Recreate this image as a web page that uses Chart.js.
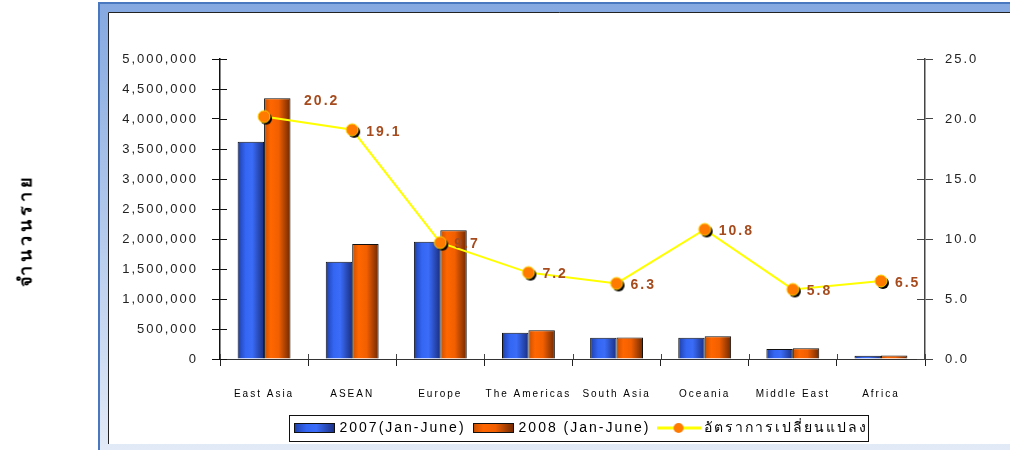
<!DOCTYPE html>
<html>
<head>
<meta charset="utf-8">
<script src="https://cdn.jsdelivr.net/npm/chart.js@4"></script>
<style>
  body { margin: 0; background: #fff; }
  #wrap { position: relative; width: 1010px; height: 450px; }
  #ytitle {
    position: absolute; left: 25px; top: 230px;
    transform: translate(-50%, -50%) rotate(-90deg);
    white-space: nowrap; font: bold 18px "Liberation Sans", Arial, sans-serif;
    letter-spacing: 4px; color: #000;
  }
</style>
</head>
<body>
<div id="wrap">
  <canvas id="stage" width="1010" height="450"></canvas>
  <div id="ytitle">จำนวนราย</div>
</div>
<script>
// data
const regions = ['East Asia', 'ASEAN', 'Europe', 'The Americas', 'South Asia', 'Oceania', 'Middle East', 'Africa'];
const arrivals2007 = [3620000, 1620000, 1955000, 438000, 355000, 355000, 165000, 55000];
const arrivals2008 = [4345000, 1915000, 2145000, 478000, 360000, 378000, 180000, 60000];
const growthRate = [20.2, 19.1, 9.7, 7.2, 6.3, 10.8, 5.8, 6.5];
const seriesNames = ['2007(Jan-June)', '2008 (Jan-June)', 'อัตราการเปลี่ยนแปลง'];

const FONT = '"Liberation Sans", Arial, sans-serif';
Chart.defaults.font.family = FONT;
Chart.defaults.color = '#111';

function makeCanvas(w, h) {
  const c = document.createElement('canvas');
  c.width = w; c.height = h;
  return c;
}

// point marker: orange dot with yellow rim and a black drop shadow
const dot = makeCanvas(20, 20);
(function () {
  const g = dot.getContext('2d');
  g.fillStyle = '#000';
  g.beginPath(); g.arc(12, 12, 6, 0, Math.PI * 2); g.fill();
  g.fillStyle = '#ff7a00'; g.strokeStyle = '#ffd200'; g.lineWidth = 1;
  g.beginPath(); g.arc(10, 10, 6, 0, Math.PI * 2); g.fill(); g.stroke();
})();

function barGradient(ctx, x0, x1, isBlue) {
  const g = ctx.createLinearGradient(x0, 0, x1, 0);
  if (isBlue) {
    g.addColorStop(0, '#1d3ea6');
    g.addColorStop(0.3, '#3466f4');
    g.addColorStop(0.55, '#3a6cf8');
    g.addColorStop(1, '#1a2e80');
  } else {
    g.addColorStop(0, '#c94f00');
    g.addColorStop(0.25, '#ff6600');
    g.addColorStop(0.55, '#f25f00');
    g.addColorStop(1, '#6e2800');
  }
  return g;
}

function rectIcon(isBlue) {
  const c = makeCanvas(41, 10);
  const g = c.getContext('2d');
  g.fillStyle = barGradient(g, 0, 41, isBlue);
  g.fillRect(0, 0, 41, 10);
  g.strokeStyle = '#111'; g.lineWidth = 1;
  g.strokeRect(0.5, 0.5, 40, 9);
  return c;
}

const lineIcon = makeCanvas(44, 12);
(function () {
  const g = lineIcon.getContext('2d');
  g.strokeStyle = '#ffff00'; g.lineWidth = 3;
  g.beginPath(); g.moveTo(0, 6); g.lineTo(44, 6); g.stroke();
  g.fillStyle = '#ff7a00';
  g.beginPath(); g.arc(22, 6, 5, 0, Math.PI * 2); g.fill();
})();

const legendIcons = [rectIcon(true), rectIcon(false), lineIcon];

const framePlugin = {
  id: 'frame',
  beforeUpdate(chart) { chart.ctx.letterSpacing = '2px'; },
  afterLayout(chart) {
    chart.legend.left += 77;
    chart.legend.right += 77;
  },
  beforeDraw(chart) {
    const ctx = chart.ctx, w = chart.width, h = chart.height;
    ctx.save();
    ctx.fillStyle = '#fff';
    ctx.fillRect(0, 0, w, h);
    const g = ctx.createLinearGradient(0, 2, 0, h);
    g.addColorStop(0, '#84a8e0');
    g.addColorStop(1, '#e2eaf7');
    ctx.fillStyle = g;
    ctx.fillRect(98, 2, w - 98, h - 2);
    ctx.fillStyle = '#4a78c0';
    ctx.fillRect(98, 2, 2, h - 2);
    ctx.fillRect(98, 2, w - 98, 2);
    ctx.fillStyle = '#fff';
    ctx.fillRect(108, 12, w - 108, 432);
    ctx.strokeStyle = '#222'; ctx.lineWidth = 1;
    ctx.beginPath();
    ctx.moveTo(108.5, 444); ctx.lineTo(108.5, 12.5); ctx.lineTo(w, 12.5);
    ctx.stroke();
    ctx.restore();
    ctx.letterSpacing = '2px';
  },
  beforeDatasetsDraw(chart) {
    const ctx = chart.ctx;
    // tick marks cross the axes: draw the inner halves
    const {left, right, bottom} = chart.chartArea;
    ctx.save();
    ctx.lineWidth = 1;
    ctx.strokeStyle = '#111';
    ctx.beginPath();
    chart.scales.y.ticks.forEach((t, i) => {
      const yy = Math.round(chart.scales.y.getPixelForTick(i)) + 0.5;
      ctx.moveTo(left, yy); ctx.lineTo(left + 7, yy);
    });
    ctx.stroke();
    ctx.strokeStyle = '#444';
    ctx.beginPath();
    chart.scales.y1.ticks.forEach((t, i) => {
      const yy = Math.round(chart.scales.y1.getPixelForTick(i)) + 0.5;
      ctx.moveTo(right - 8, yy); ctx.lineTo(right, yy);
    });
    const xs = chart.scales.x;
    for (let i = 0; i <= regions.length; i++) {
      const xx = Math.round(xs.left + (xs.right - xs.left) * i / regions.length) + 0.5;
      ctx.moveTo(xx, bottom - 5); ctx.lineTo(xx, bottom);
    }
    ctx.stroke();
    ctx.restore();

    [0, 1].forEach(di => {
      chart.getDatasetMeta(di).data.forEach(bar => {
        const half = bar.width / 2;
        bar.options = Object.assign({}, bar.options, {
          backgroundColor: barGradient(ctx, bar.x - half, bar.x + half, di === 0)
        });
      });
    });
  },
  afterDatasetsDraw(chart) {
    const ctx = chart.ctx;
    ctx.save();
    ctx.letterSpacing = '2px';
    ctx.font = 'bold 14px ' + FONT;
    ctx.fillStyle = '#a64b1e';
    ctx.textAlign = 'left';
    ctx.textBaseline = 'middle';
    chart.getDatasetMeta(2).data.forEach((pt, i) => {
      const dx = i === 0 ? 40 : 14;
      const dy = i === 0 ? -15 : 2;
      ctx.fillText(growthRate[i].toFixed(1), pt.x + dx, pt.y + dy);
    });
    ctx.restore();
  },
  afterDraw(chart) {
    const boxes = chart.legend.legendHitBoxes;
    if (!boxes || !boxes.length) return;
    const ctx = chart.ctx;
    const first = boxes[0], last = boxes[boxes.length - 1];
    const cy = first.top + first.height / 2;
    ctx.save();
    ctx.strokeStyle = '#111'; ctx.lineWidth = 1;
    ctx.strokeRect(Math.round(first.left - 7) + 0.5, Math.round(cy - 13) + 0.5,
      Math.round(last.left + last.width - first.left + 8), 26);
    ctx.restore();
  }
};

new Chart(document.getElementById('stage'), {
  data: {
    labels: regions,
    datasets: [{
      type: 'bar',
      label: seriesNames[0],
      data: arrivals2007,
      backgroundColor: '#3466f4',
      borderColor: '#111',
      borderWidth: 1,
      yAxisID: 'y',
      order: 2
    }, {
      type: 'bar',
      label: seriesNames[1],
      data: arrivals2008,
      backgroundColor: '#ff6600',
      borderColor: '#111',
      borderWidth: 1,
      yAxisID: 'y',
      order: 2
    }, {
      type: 'line',
      label: seriesNames[2],
      data: growthRate,
      borderColor: '#ffff00',
      borderWidth: 2,
      tension: 0,
      pointStyle: dot,
      pointRadius: 7,
      yAxisID: 'y1',
      order: 1
    }]
  },
  options: {
    responsive: false,
    animation: false,
    layout: { padding: { top: 59, bottom: 5, left: 0, right: 0 } },
    datasets: { bar: { barPercentage: 1, categoryPercentage: 0.6 } },
    plugins: {
      tooltip: { enabled: false },
      legend: {
        position: 'bottom',
        labels: {
          usePointStyle: true,
          pointStyleWidth: 36,
          padding: 10,
          color: '#000',
          font: { size: 14 },
          generateLabels: chart => chart.data.datasets.map((ds, i) => ({
            text: ds.label,
            pointStyle: legendIcons[i],
            datasetIndex: i,
            lineWidth: 0,
            hidden: false
          }))
        }
      }
    },
    scales: {
      x: {
        offset: true,
        afterFit: s => { s.height = 52; },
        grid: { drawOnChartArea: false, tickLength: 7, color: '#222' },
        border: { color: '#333', width: 1 },
        ticks: { autoSkip: false, maxRotation: 0, padding: 22, color: '#000', font: { size: 10 } }
      },
      y: {
        position: 'left',
        min: 0, max: 5000000,
        afterFit: s => { s.width = 220; },
        grid: { drawOnChartArea: false, tickLength: 8, color: '#111' },
        border: { color: '#111', width: 1.5 },
        ticks: {
          stepSize: 500000, padding: 14, color: '#222', font: { size: 13 },
          callback: v => v.toLocaleString('en-US')
        }
      },
      y1: {
        position: 'right',
        min: 0, max: 25,
        afterFit: s => { s.width = 85; },
        grid: { drawOnChartArea: false, tickLength: 8, color: '#444' },
        border: { color: '#444', width: 1.5 },
        ticks: {
          stepSize: 5, padding: 12, color: '#222', font: { size: 13 },
          callback: v => v.toFixed(1)
        }
      }
    }
  },
  plugins: [framePlugin]
});
</script>
</body>
</html>
